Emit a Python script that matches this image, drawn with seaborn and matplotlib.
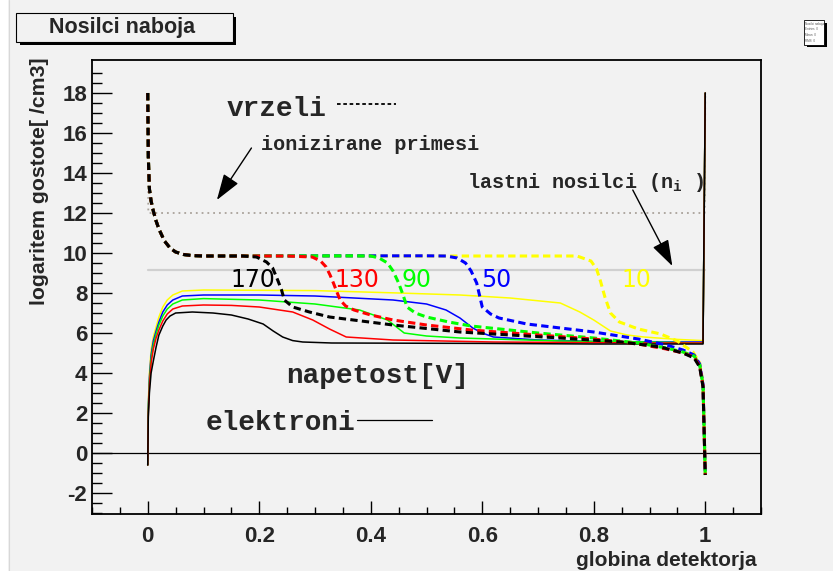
import matplotlib
matplotlib.use("Agg")
import matplotlib.pyplot as plt
from matplotlib.patches import Rectangle
import seaborn as sns

sns.set_style("ticks")
plt.rcParams["font.family"] = ["Liberation Sans", "DejaVu Sans"]

# ---- data -------------------------------------------------------------
voltages = ["10", "50", "90", "130", "170"]
colors = ["#ffff00", "#0000ff", "#00ff00", "#ff0000", "#000000"]

# holes (vrzeli), log10 density along detector depth
hole_left_x = [0.0, 0.001, 0.003, 0.006, 0.01, 0.015, 0.02, 0.03, 0.04, 0.05, 0.065, 0.08, 0.1]
hole_left_y = [18.0, 14.8, 13.2, 12.6, 12.1, 11.6, 11.2, 10.6, 10.25, 10.05, 9.92, 9.87, 9.85]

hole_x_10 = [0.77, 0.795, 0.805, 0.812, 0.82, 0.83, 0.846, 0.88, 0.92, 0.95, 0.978, 0.99, 0.996, 1.0]
hole_y_10 = [9.85, 9.6, 9.2, 8.6, 7.8, 7.0, 6.55, 6.2, 5.95, 5.6, 5.05, 4.5, 3.5, -1.1]

hole_x_50 = [0.5, 0.535, 0.555, 0.57, 0.58, 0.59, 0.595, 0.6, 0.615, 0.63, 0.68, 0.74, 0.8, 0.88, 0.93, 0.96, 0.98, 0.99, 0.996, 1.0]
hole_y_50 = [9.86, 9.85, 9.75, 9.5, 9.1, 8.5, 7.9, 7.3, 6.95, 6.75, 6.45, 6.25, 6.05, 5.7, 5.4, 5.15, 4.9, 4.45, 3.45, -1.1]

hole_x_90 = [0.37, 0.4, 0.415, 0.43, 0.44, 0.45, 0.458, 0.465, 0.48, 0.5, 0.54, 0.58, 0.7, 0.8, 0.88, 0.93, 0.96, 0.98, 0.99, 0.996, 1.0]
hole_y_90 = [9.86, 9.85, 9.75, 9.5, 9.1, 8.5, 7.9, 7.3, 7.0, 6.8, 6.55, 6.35, 6.0, 5.75, 5.5, 5.25, 5.05, 4.85, 4.4, 3.4, -1.1]

hole_x_130 = [0.25, 0.295, 0.31, 0.32, 0.327, 0.333, 0.34, 0.345, 0.355, 0.37, 0.4, 0.44, 0.5, 0.58, 0.7, 0.8, 0.88, 0.93, 0.96, 0.98, 0.99, 0.996, 1.0]
hole_y_130 = [9.85, 9.8, 9.6, 9.3, 8.9, 8.5, 8.0, 7.65, 7.35, 7.15, 6.9, 6.65, 6.4, 6.15, 5.9, 5.7, 5.45, 5.2, 5.0, 4.8, 4.35, 3.35, -1.1]

hole_x_170 = [0.17, 0.195, 0.213, 0.224, 0.233, 0.24, 0.245, 0.26, 0.29, 0.326, 0.44, 0.56, 0.74, 0.85, 0.92, 0.96, 0.98, 0.99, 0.996, 1.0]
hole_y_170 = [9.85, 9.8, 9.55, 9.25, 8.65, 8.15, 7.65, 7.3, 7.05, 6.8, 6.4, 6.05, 5.75, 5.55, 5.3, 5.0, 4.75, 4.3, 3.3, -1.1]

# electrons (elektroni)
el_x_10 = [0.0, 0.001, 0.003, 0.006, 0.01, 0.015, 0.02, 0.027, 0.035, 0.045, 0.062, 0.1, 0.3, 0.45, 0.56, 0.65, 0.74, 0.775, 0.8, 0.83, 0.86, 0.89, 0.95, 0.996, 1.0]
el_y_10 = [-0.6, 2.5, 4.0, 5.15, 5.8, 6.3, 6.8, 7.3, 7.65, 7.9, 8.1, 8.15, 8.12, 8.0, 7.9, 7.75, 7.5, 7.05, 6.65, 6.1, 5.9, 5.8, 5.68, 5.62, 18.0]

el_x_50 = [0.0, 0.001, 0.003, 0.006, 0.01, 0.015, 0.02, 0.027, 0.035, 0.045, 0.062, 0.1, 0.2, 0.3, 0.44, 0.5, 0.535, 0.56, 0.583, 0.6, 0.62, 0.7, 0.8, 0.9, 0.996, 1.0]
el_y_50 = [-0.6, 2.3, 3.8, 4.9, 5.6, 6.1, 6.55, 7.05, 7.4, 7.65, 7.85, 7.9, 7.9, 7.85, 7.65, 7.45, 7.15, 6.75, 6.25, 6.0, 5.8, 5.65, 5.58, 5.55, 5.55, 18.0]

el_x_90 = [0.0, 0.001, 0.003, 0.006, 0.01, 0.015, 0.02, 0.027, 0.035, 0.045, 0.062, 0.1, 0.2, 0.3, 0.38, 0.43, 0.46, 0.5, 0.56, 0.74, 0.9, 0.996, 1.0]
el_y_90 = [-0.6, 2.2, 3.6, 4.7, 5.4, 5.95, 6.4, 6.85, 7.2, 7.45, 7.65, 7.72, 7.65, 7.45, 7.15, 6.65, 6.0, 5.85, 5.75, 5.6, 5.55, 5.5, 18.0]

el_x_130 = [0.0, 0.001, 0.003, 0.006, 0.01, 0.015, 0.02, 0.027, 0.035, 0.045, 0.062, 0.1, 0.15, 0.2, 0.26, 0.296, 0.326, 0.356, 0.44, 0.62, 0.9, 0.996, 1.0]
el_y_130 = [-0.6, 2.0, 3.4, 4.5, 5.2, 5.75, 6.15, 6.6, 6.95, 7.2, 7.35, 7.4, 7.38, 7.3, 7.05, 6.65, 6.2, 5.8, 5.65, 5.55, 5.5, 5.5, 18.0]

el_x_170 = [0.0, 0.001, 0.003, 0.006, 0.01, 0.015, 0.02, 0.027, 0.033, 0.04, 0.05, 0.08, 0.117, 0.15, 0.18, 0.207, 0.225, 0.242, 0.26, 0.278, 0.33, 0.6, 0.8, 0.996, 1.0]
el_y_170 = [-0.6, 1.8, 3.0, 4.0, 4.6, 5.3, 5.9, 6.35, 6.65, 6.85, 7.0, 7.05, 7.0, 6.9, 6.7, 6.45, 6.1, 5.8, 5.62, 5.55, 5.5, 5.48, 5.45, 5.45, 18.0]

# ionised impurities and intrinsic density
ion_x = [0.0, 0.001, 0.999, 1.0]
ion_y = [18.0, 12.0, 12.0, 18.0]
ni_x = [0.0, 1.0]
ni_y = [9.15, 9.15]

hole_x = [hole_x_10, hole_x_50, hole_x_90, hole_x_130, hole_x_170]
hole_y = [hole_y_10, hole_y_50, hole_y_90, hole_y_130, hole_y_170]
el_x = [el_x_10, el_x_50, el_x_90, el_x_130, el_x_170]
el_y = [el_y_10, el_y_50, el_y_90, el_y_130, el_y_170]

label_x = [0.877, 0.625, 0.482, 0.376, 0.188]
label_y = 8.65

x_ticks = [0, 0.2, 0.4, 0.6, 0.8, 1]
x_tick_labels = ["0", "0.2", "0.4", "0.6", "0.8", "1"]
y_ticks = [-2, 0, 2, 4, 6, 8, 10, 12, 14, 16, 18]
y_tick_labels = ["-2", "0", "2", "4", "6", "8", "10", "12", "14", "16", "18"]

# ---- figure -----------------------------------------------------------
W, H = 833, 571
BG = "#f2f2f2"
fig = plt.figure(figsize=(W / 100, H / 100), dpi=100, facecolor=BG)


def fx(px):
    return px / W


def fy(py):
    return 1 - py / H


# white margin on the left edge of the canvas
fig.add_artist(Rectangle((0, 0), fx(8), 1, transform=fig.transFigure,
                         facecolor="white", edgecolor="none"))
fig.add_artist(plt.Line2D([fx(8.5), fx(8.5)], [0, 1], transform=fig.transFigure,
                          color="#d8d8d8", linewidth=0.8))

ax = fig.add_axes([fx(92), fy(514), fx(761) - fx(92), fy(60) - fy(514)])
ax.set_facecolor(BG)
ax.set_xlim(-0.1, 1.1)
ax.set_ylim(-3.05, 19.65)

mono = "Liberation Mono"

# reference lines
sns.lineplot(x=ni_x, y=ni_y, color="#d0d0d0", linewidth=1.6, ax=ax, sort=False, estimator=None)
sns.lineplot(x=ion_x, y=ion_y, color="#a9a29a", linewidth=1.3, linestyle=(0, (1, 2.2)),
             ax=ax, sort=False, estimator=None)
ax.axhline(0, color="black", linewidth=0.9)

# electrons
for xs, ys, c in zip(el_x, el_y, colors):
    sns.lineplot(x=xs, y=ys, color=c, linewidth=1.1, ax=ax, sort=False, estimator=None)

# holes: shared steep rise at x=0 joined to each plateau
for xs, ys, c in zip(hole_x, hole_y, colors):
    hx = hole_left_x + [v for v in xs if v > hole_left_x[-1]]
    hy = hole_left_y + [v for v, u in zip(ys, xs) if u > hole_left_x[-1]]
    sns.lineplot(x=hx, y=hy, color=c, linewidth=2.2, linestyle=(0, (2.4, 1.4)),
                 ax=ax, sort=False, estimator=None)

# voltage labels
for txt, lx, c in zip(voltages, label_x, colors):
    ax.text(lx, label_y, txt, color=c, fontsize=17, family="DejaVu Sans",
            ha="center", va="center")

# annotations
ax.text(0.141, 16.85, "vrzeli", family=mono, weight="bold", fontsize=20, va="baseline")
ax.plot([0.34, 0.445], [17.45, 17.45], color="black", linewidth=1.3, linestyle=(0, (2, 1.5)))
ax.text(0.103, 1.15, "elektroni", family=mono, weight="bold", fontsize=20, va="baseline")
ax.plot([0.376, 0.509], [1.65, 1.65], color="black", linewidth=0.9)
ax.text(0.249, 3.5, "napetost[V]", family=mono, weight="bold", fontsize=20, va="baseline")
ax.text(0.204, 15.15, "ionizirane primesi", family=mono, weight="bold", fontsize=14.5, va="baseline")
ax.text(0.572, 13.25, r"lastni nosilci (n$_\mathregular{i}$ )", family=mono, weight="bold",
        fontsize=14.5, va="baseline")
arrow = dict(arrowstyle="-|>,head_length=0.9,head_width=0.3", color="black", lw=1.0,
             shrinkA=0, shrinkB=0, mutation_scale=18)
ax.annotate("", xy=(0.124, 12.65), xytext=(0.186, 15.25), arrowprops=arrow)
ax.annotate("", xy=(0.941, 9.35), xytext=(0.87, 13.15), arrowprops=arrow)

# axes styling
ax.set_xticks(x_ticks)
ax.set_xticklabels(x_tick_labels)
ax.set_yticks(y_ticks)
ax.set_yticklabels(y_tick_labels)
ax.set_xticks([i * 0.05 - 0.1 for i in range(25)], minor=True)
ax.set_yticks([i * 0.5 - 3.0 for i in range(45)], minor=True)
ax.tick_params(axis="both", which="both", direction="in", color="black", width=1.0,
               top=False, right=False)
ax.tick_params(axis="y", which="major", length=14.4, pad=3.5)
ax.tick_params(axis="y", which="minor", length=7.2)
ax.tick_params(axis="x", which="major", length=9.4, pad=8.5)
ax.tick_params(axis="x", which="minor", length=4.7)
for lab in ax.get_xticklabels() + ax.get_yticklabels():
    lab.set_fontweight("bold")
    lab.set_fontsize(16)
for s in ax.spines.values():
    s.set_color("black")
    s.set_linewidth(1.3)
ax.set_xlabel("")
ax.set_ylabel("")

fig.text(fx(40), fy(57), "logaritem gostote[ /cm3]", rotation=90, ha="center", va="top",
         fontsize=15.3, weight="bold")
fig.text(fx(757), fy(566), "globina detektorja", ha="right", va="baseline",
         fontsize=15, weight="bold")

# title box with shadow
fig.add_artist(Rectangle((fx(20), fy(45)), fx(236) - fx(20), fy(17) - fy(45),
                         transform=fig.transFigure, facecolor="black", edgecolor="none"))
fig.add_artist(Rectangle((fx(16), fy(42)), fx(233) - fx(16), fy(13) - fy(42),
                         transform=fig.transFigure, facecolor=BG, edgecolor="black", linewidth=0.8))
fig.text(fx(122), fy(28), "Nosilci naboja", ha="center", va="center", fontsize=15.5, weight="bold")

# statistics box
fig.add_artist(Rectangle((fx(807), fy(47)), fx(827) - fx(807), fy(23) - fy(47),
                         transform=fig.transFigure, facecolor="black", edgecolor="none"))
fig.add_artist(Rectangle((fx(804), fy(45)), fx(824) - fx(804), fy(20) - fy(45),
                         transform=fig.transFigure, facecolor="white", edgecolor="black", linewidth=0.6))
for i, s in enumerate(["Nosilci naboja", "Entries  0", "Mean  0", "RMS  0"]):
    fig.text(fx(805), fy(24 + i * 5.5), s, fontsize=2.2, color="#555555", va="center")

fig.savefig("out.png", dpi=100, facecolor=BG)
